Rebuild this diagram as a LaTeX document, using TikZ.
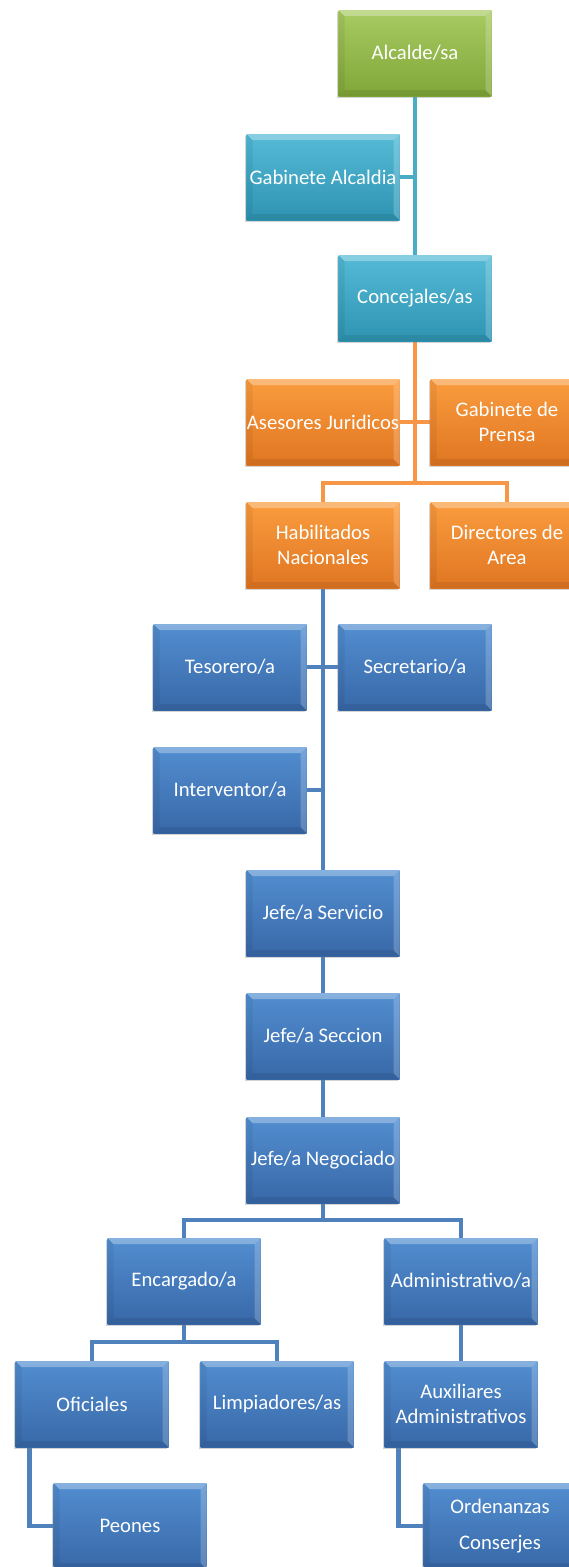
\documentclass[tikz,border=0pt]{standalone}
\usepackage{fontspec}
\setmainfont{Carlito}
\usepackage{tikz}
\usetikzlibrary{calc}
\usetikzlibrary{shadows}
\usetikzlibrary{backgrounds}

\definecolor{grtop}{RGB}{168,203,98}
\definecolor{grbot}{RGB}{128,166,56}
\definecolor{tetop}{RGB}{84,186,214}
\definecolor{tebot}{RGB}{46,148,178}
\definecolor{ortop}{RGB}{250,156,62}
\definecolor{orbot}{RGB}{224,118,34}
\definecolor{bltop}{RGB}{82,142,208}
\definecolor{blbot}{RGB}{56,104,168}
\definecolor{teline}{RGB}{75,172,198}
\definecolor{orline}{RGB}{247,150,70}
\definecolor{blline}{RGB}{79,129,189}

\begin{document}
\begin{tikzpicture}[x=1pt, y=-1pt,
    box/.style={rectangle, minimum width=153pt, minimum height=86pt, inner sep=0pt,
        align=center, text=white, font=\fontsize{20.7}{25}\selectfont,
        drop shadow={shadow xshift=-1.5pt, shadow yshift=-2pt, opacity=0.35},
        path picture={
            \fill[white, opacity=0.3] (path picture bounding box.north west) -- (path picture bounding box.north east)
                -- ([shift={(-6pt,-6pt)}]path picture bounding box.north east) -- ([shift={(6pt,-6pt)}]path picture bounding box.north west) -- cycle;
            \fill[white, opacity=0.2] (path picture bounding box.north east) -- (path picture bounding box.south east)
                -- ([shift={(-6pt,6pt)}]path picture bounding box.south east) -- ([shift={(-6pt,-6pt)}]path picture bounding box.north east) -- cycle;
            \fill[black, opacity=0.08] (path picture bounding box.south west) -- (path picture bounding box.south east)
                -- ([shift={(-6pt,6pt)}]path picture bounding box.south east) -- ([shift={(6pt,6pt)}]path picture bounding box.south west) -- cycle;
            \fill[black, opacity=0.06] (path picture bounding box.north west) -- (path picture bounding box.south west)
                -- ([shift={(6pt,6pt)}]path picture bounding box.south west) -- ([shift={(6pt,-6pt)}]path picture bounding box.north west) -- cycle;
        }},
    greenbox/.style={box, top color=grtop, bottom color=grbot},
    tealbox/.style={box, top color=tetop, bottom color=tebot},
    orangebox/.style={box, top color=ortop, bottom color=orbot},
    bluebox/.style={box, top color=bltop, bottom color=blbot},
    tealline/.style={draw=teline, line width=4.5pt},
    orangeline/.style={draw=orline, line width=4.5pt},
    blueline/.style={draw=blline, line width=4.5pt}]
    \useasboundingbox (0,0) rectangle (569,1567);

    \node[greenbox] (Alc) at (415,53) {Alcalde/sa};
    \node[tealbox] (GabA) at (323,177) {Gabinete Alcaldia};
    \node[tealbox] (Conc) at (415,298) {Concejales/as};
    \node[orangebox] (Ases) at (323,422) {Asesores Juridicos};
    \node[orangebox] (GabP) at (507,422) {Gabinete de\\Prensa};
    \node[orangebox] (Habi) at (323,545) {Habilitados\\Nacionales};
    \node[orangebox] (Dire) at (507,545) {Directores de\\Area};
    \node[bluebox] (Teso) at (230,667) {Tesorero/a};
    \node[bluebox] (Secr) at (415,667) {Secretario/a};
    \node[bluebox] (Inte) at (230,790) {Interventor/a};
    \node[bluebox] (JServ) at (323,913) {Jefe/a Servicio};
    \node[bluebox] (JSecc) at (323,1036) {Jefe/a Seccion};
    \node[bluebox] (JNeg) at (323,1160) {Jefe/a Negociado};
    \node[bluebox] (Enc) at (184,1281) {Encargado/a};
    \node[bluebox] (Adm) at (461,1281) {Administrativo/a};
    \node[bluebox] (Ofi) at (92,1404) {Oficiales};
    \node[bluebox] (Limp) at (277,1404) {Limpiadores/as};
    \node[bluebox] (Aux) at (461,1404) {Auxiliares\\Administrativos};
    \node[bluebox] (Peo) at (130,1526) {Peones};
    \node[bluebox] (Orde) at (500,1526) {Ordenanzas\\[11pt]Conserjes};

    \coordinate (ob) at (415,483);
    \coordinate (nb) at (323,1220);
    \coordinate (eb) at (184,1342);

    \begin{scope}[on background layer]
    \draw[tealline] (Alc.south) -- (Conc.north);
    \draw[tealline] (GabA.east) -- (GabA.east -| Alc.south);
    \draw[orangeline] (Conc.south) -- (ob);
    \draw[orangeline] (Ases.east) -- (GabP.west);
    \draw[orangeline] (Habi.north) |- (ob) -| (Dire.north);
    \draw[blueline] (Habi.south) -- (JServ.north);
    \draw[blueline] (Teso.east) -- (Secr.west);
    \draw[blueline] (Inte.east) -- (Inte.east -| Habi.south);
    \draw[blueline] (JServ.south) -- (JSecc.north);
    \draw[blueline] (JSecc.south) -- (JNeg.north);
    \draw[blueline] (JNeg.south) -- (nb);
    \draw[blueline] (Enc.north) |- (nb) -| (Adm.north);
    \draw[blueline] (Enc.south) -- (eb);
    \draw[blueline] (Ofi.north) |- (eb) -| (Limp.north);
    \draw[blueline] (Adm.south) -- (Aux.north);
    \draw[blueline] ([xshift=14pt]Ofi.south west) |- (Peo.west);
    \draw[blueline] ([xshift=14pt]Aux.south west) |- (Orde.west);
    \end{scope}
\end{tikzpicture}
\end{document}
